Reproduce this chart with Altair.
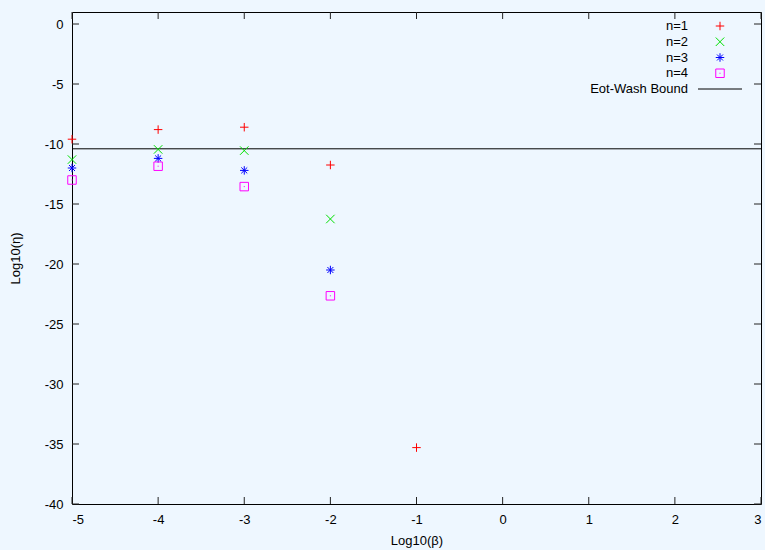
import altair as alt
import pandas as pd

# ---- data ----
beta = [-5, -4, -3, -2, -1]
n1 = [-9.6, -8.8, -8.6, -11.75, -35.3]
n2 = [-11.3, -10.45, -10.55, -16.25]
n3 = [-12.0, -11.2, -12.2, -20.5]
n4 = [-13.0, -11.85, -13.55, -22.65]
eot_wash = -10.4

series_names = ["n=1", "n=2", "n=3", "n=4"]
series_vals = [n1, n2, n3, n4]
colors = ["#FF0000", "#00E000", "#0000FF", "#FF00FF"]
shapes = [
    "M-1,0H1M0,-1V1",
    "M-1,-1L1,1M-1,1L1,-1",
    "M-1,0H1M0,-1V1M-0.7,-0.7L0.7,0.7M-0.7,0.7L0.7,-0.7",
    "M-1,-1H1V1H-1ZM0,-0.12V0.12",
]
x_ticks = [-5, -4, -3, -2, -1, 0, 1, 2, 3]
y_ticks = [-40, -35, -30, -25, -20, -15, -10, -5, 0]
x_dom = [-5, 3]
y_dom = [-40, 1]

W, H = 689, 492
TICK = 7  # tick length in pixels

rows = []
for name, vals in zip(series_names, series_vals):
    for b, v in zip(beta, vals):
        rows.append({"beta": b, "eta": v, "series": name})
pts = pd.DataFrame(rows)

xscale = alt.Scale(domain=x_dom, nice=False, zero=False)
yscale = alt.Scale(domain=y_dom, nice=False, zero=False)
shape_scale = alt.Scale(domain=series_names, range=shapes)
color_scale = alt.Scale(domain=series_names, range=colors)
size_scale = alt.Scale(domain=series_names, range=[72, 72, 56, 90])

lab = "datum.value < 0 ? '-' + abs(datum.value) : '' + datum.value"
font = "Liberation Sans"
FS = 13

points = alt.Chart(pts).mark_point(filled=False, strokeWidth=1, opacity=1).encode(
    x=alt.X("beta:Q", scale=xscale,
            axis=alt.Axis(values=x_ticks, labelExpr=lab, title="Log10(β)", ticks=False,
                          domain=False, grid=False, labelPadding=9, titlePadding=8,
                          labelFontSize=FS, titleFontSize=FS, titleFontWeight="normal",
                          labelFont=font, titleFont=font, labelColor="#000", titleColor="#000")),
    y=alt.Y("eta:Q", scale=yscale,
            axis=alt.Axis(values=y_ticks, labelExpr=lab, title="Log10(η)", ticks=False,
                          domain=False, grid=False, labelPadding=9, titlePadding=22,
                          labelFontSize=FS, titleFontSize=FS, titleFontWeight="normal",
                          labelFont=font, titleFont=font, labelColor="#000", titleColor="#000")),
    shape=alt.Shape("series:N", scale=shape_scale, legend=None),
    color=alt.Color("series:N", scale=color_scale, legend=None),
    size=alt.Size("series:N", scale=size_scale, legend=None),
)

bound = alt.Chart(pd.DataFrame({"eta": [eot_wash]})).mark_rule(color="#000", strokeWidth=1).encode(
    y=alt.Y("eta:Q", scale=yscale)
)

# inward tick marks (gnuplot style), lengths converted from pixels to data units
dy = TICK * (y_dom[1] - y_dom[0]) / H
dx = TICK * (x_dom[1] - x_dom[0]) / W
tick_rows = []
for v in x_ticks:
    tick_rows.append({"x0": v, "x1": v, "y0": y_dom[1], "y1": y_dom[1] - dy})
    tick_rows.append({"x0": v, "x1": v, "y0": y_dom[0], "y1": y_dom[0] + dy})
for v in y_ticks:
    tick_rows.append({"x0": x_dom[0], "x1": x_dom[0] + dx, "y0": v, "y1": v})
    tick_rows.append({"x0": x_dom[1], "x1": x_dom[1] - dx, "y0": v, "y1": v})
ticks = alt.Chart(pd.DataFrame(tick_rows)).mark_rule(color="#222", strokeWidth=1).encode(
    x=alt.X("x0:Q", scale=xscale), x2="x1:Q",
    y=alt.Y("y0:Q", scale=yscale), y2="y1:Q",
)

# ---- legend (gnuplot style: label left, symbol right) ----
leg = pd.DataFrame({"label": series_names + ["Eot-Wash Bound"],
                    "row": [0, 1, 2, 3, 4],
                    "series": series_names + ["bound"]})
row_scale = alt.Scale(domain=[0, 4], range=[14, 77])
leg_text = alt.Chart(leg).mark_text(align="right", baseline="middle", font=font,
                                     fontSize=FS, color="#000").encode(
    x=alt.value(616), y=alt.Y("row:Q", scale=row_scale, axis=None), text="label:N")
leg_pts = alt.Chart(leg[leg.series != "bound"]).mark_point(filled=False, strokeWidth=1, opacity=1).encode(
    x=alt.value(648), y=alt.Y("row:Q", scale=row_scale, axis=None),
    shape=alt.Shape("series:N", scale=shape_scale, legend=None),
    color=alt.Color("series:N", scale=color_scale, legend=None),
    size=alt.Size("series:N", scale=size_scale, legend=None),
)
leg_line = alt.Chart(leg[leg.series == "bound"]).mark_rule(color="#000", strokeWidth=1).encode(
    x=alt.value(626), x2=alt.value(670), y=alt.Y("row:Q", scale=row_scale, axis=None))

main = alt.layer(bound, ticks, points)
legend = alt.layer(leg_text, leg_pts, leg_line)

chart = alt.layer(main, legend).resolve_scale(y="independent").properties(
    width=W, height=H,
    autosize=alt.AutoSizeParams(type="none"),
    padding={"left": 72, "top": 12, "right": 4, "bottom": 46},
    background="#EEF7FF",
).configure_view(stroke="#000", strokeWidth=1)

chart.save("out.html", embed_options={"renderer": "svg", "actions": False})
